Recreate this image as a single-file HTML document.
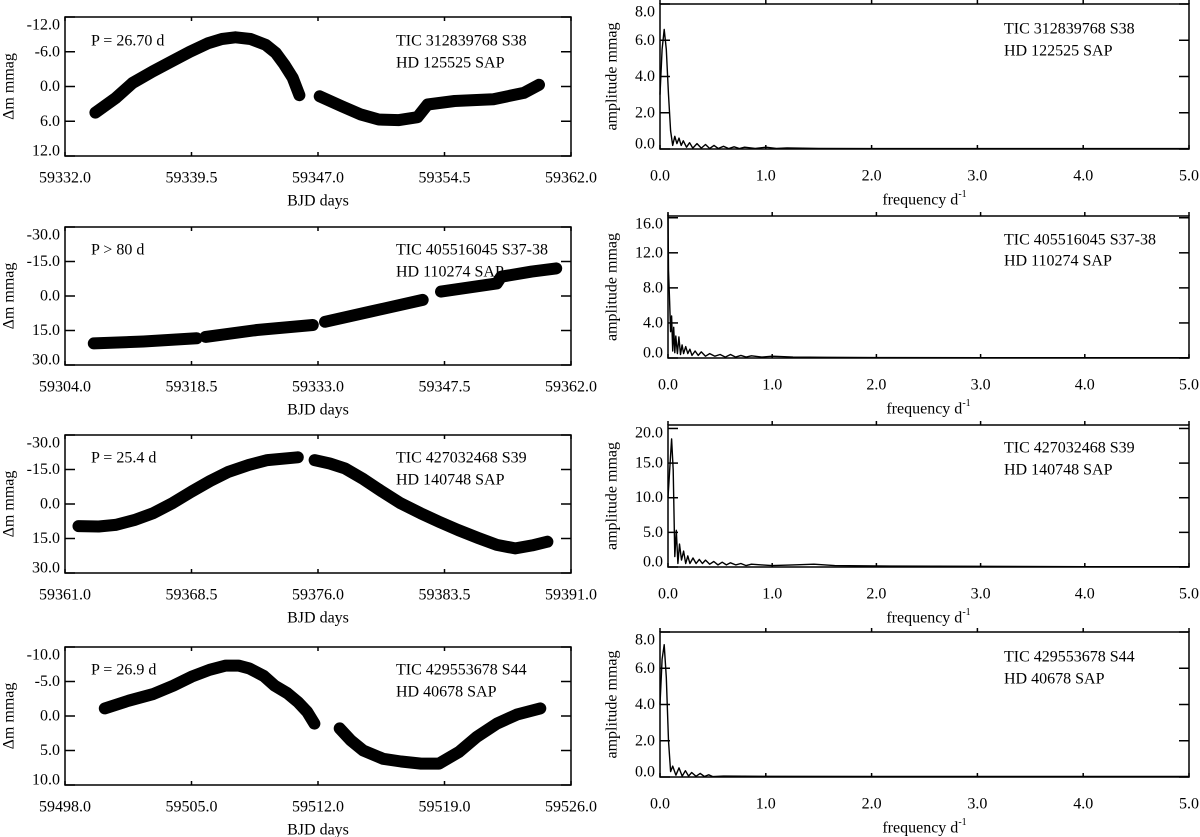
<!DOCTYPE html>
<html><head><meta charset="utf-8">
<style>
html,body{margin:0;padding:0;background:#fff;}
svg{display:block;font-family:"Liberation Serif",serif;}
</style></head>
<body>
<svg id="fig" width="1200" height="837" viewBox="0 0 1200 837"></svg>
<script>
// ---------- Light curve data (BJD, delta mag mmag) ----------
const lc1Seg1T=[59333.8,59335.0,59336.0,59337.2,59338.3,59339.4,59340.5,59341.3,59342.1,59343.0,59343.9,59344.5,59345.0,59345.5,59345.9];
const lc1Seg1M=[4.5,2.0,-0.6,-2.6,-4.3,-6.0,-7.5,-8.2,-8.5,-8.2,-7.2,-5.8,-3.8,-1.5,1.5];
const lc1Seg2T=[59347.1,59348.4,59349.5,59350.6,59351.8,59352.9,59353.5,59355.1,59357.4,59359.2,59360.1];
const lc1Seg2M=[1.7,3.4,4.8,5.7,5.8,5.3,3.1,2.5,2.2,1.1,-0.3];

const lc2Seg1T=[59307.3,59313.0,59319.1];
const lc2Seg1M=[20.6,19.8,18.4];
const lc2Seg2T=[59320.1,59326.0,59332.4];
const lc2Seg2M=[17.8,14.8,12.6];
const lc2Seg3T=[59333.8,59339.0,59345.0];
const lc2Seg3M=[11.2,6.8,1.7];
const lc2Seg4T=[59347.1,59353.5,59354.0,59357.5,59360.3];
const lc2Seg4M=[-1.9,-5.5,-8.4,-10.6,-12.0];

const lc3Seg1T=[59361.8,59363.0,59364.0,59365.1,59366.2,59367.4,59368.5,59369.6,59370.7,59371.9,59373.0,59374.8];
const lc3Seg1M=[9.6,9.8,9.1,7.0,4.1,-0.5,-5.4,-10.0,-14.0,-17.0,-19.1,-20.3];
const lc3Seg2T=[59375.8,59376.7,59377.6,59378.7,59379.8,59380.9,59382.1,59383.2,59384.3,59385.5,59386.6,59387.7,59388.7,59389.6];
const lc3Seg2M=[-19.1,-17.6,-15.5,-10.8,-5.4,-0.3,4.1,7.8,11.3,14.8,17.8,19.3,18.0,16.4];

const lc4Seg1T=[59500.2,59501.5,59502.9,59504.0,59505.0,59506.0,59506.9,59507.6,59508.2,59509.0,59509.6,59510.3,59510.9,59511.4,59511.8];
const lc4Seg1M=[-1.1,-2.2,-3.2,-4.4,-5.7,-6.7,-7.3,-7.3,-6.9,-5.8,-4.4,-3.3,-2.0,-0.6,1.1];
const lc4Seg2T=[59513.2,59513.8,59514.5,59515.6,59516.6,59517.7,59518.7,59519.8,59520.8,59521.9,59523.0,59524.3];
const lc4Seg2M=[1.8,3.5,5.0,6.2,6.6,6.9,6.9,5.2,3.0,1.1,-0.2,-1.1];

// ---------- Periodogram data (frequency d^-1, amplitude mmag) ----------
const ft1F=[0,0.02,0.04,0.06,0.08,0.1,0.12,0.14,0.16,0.18,0.2,0.22,0.25,0.28,0.31,0.35,0.39,0.43,0.47,0.51,0.55,0.6,0.65,0.7,0.75,0.8,0.9,1.0,1.1,1.2,1.5,2,3,4,5];
const ft1A=[3,5.5,6.6,5.5,3,1,0.2,0.7,0.3,0.6,0.2,0.45,0.1,0.35,0.05,0.3,0.05,0.25,0.03,0.2,0.03,0.15,0.02,0.12,0.02,0.1,0.03,0.1,0.03,0.06,0.03,0.02,0.02,0.02,0.02];
const ft2F=[0,0.005,0.015,0.025,0.035,0.045,0.055,0.065,0.075,0.09,0.105,0.12,0.135,0.15,0.17,0.19,0.21,0.23,0.26,0.29,0.32,0.36,0.4,0.45,0.5,0.55,0.6,0.65,0.7,0.75,0.8,0.9,1.0,1.2,1.5,2,3,4,5];
const ft2A=[16.5,10,6.5,3,4.8,0.8,3.5,0.6,2.5,0.5,2.4,0.4,1.5,0.5,1.3,0.5,1.0,0.3,0.8,0.3,0.7,0.2,0.5,0.2,0.4,0.1,0.4,0.1,0.3,0.1,0.25,0.1,0.2,0.1,0.08,0.05,0.03,0.03,0.03];
const ft3F=[0,0.02,0.035,0.05,0.065,0.08,0.095,0.11,0.13,0.15,0.17,0.19,0.21,0.24,0.27,0.3,0.33,0.36,0.4,0.44,0.48,0.52,0.56,0.6,0.65,0.7,0.75,0.8,0.9,1.0,1.2,1.4,1.6,2,3,4,5];
const ft3A=[10,15,18.5,14,1.5,5.3,0.5,3.3,1,2.3,0.5,1.6,0.5,1.3,0.5,1.1,0.5,1.0,0.4,0.8,0.3,0.7,0.3,0.6,0.3,0.5,0.2,0.4,0.3,0.2,0.3,0.4,0.2,0.15,0.1,0.05,0.05];
const ft4F=[0,0.02,0.04,0.06,0.08,0.1,0.12,0.15,0.18,0.21,0.24,0.27,0.3,0.34,0.38,0.42,0.46,0.5,0.6,1,2,3,4,5];
const ft4A=[4,6.5,7.3,5.5,2,0.3,0.6,0.1,0.5,0.05,0.35,0.05,0.25,0.04,0.2,0.03,0.12,0.02,0.05,0.04,0.03,0.03,0.03,0.03];

// ---------- Tick labels ----------
const lcXTicks1=[59332.0,59339.5,59347.0,59354.5,59362.0];
const lcYTicks1=[-12,-6,0,6,12];
const lcXTicks2=[59304.0,59318.5,59333.0,59347.5,59362.0];
const lcYTicks2=[-30,-15,0,15,30];
const lcXTicks3=[59361.0,59368.5,59376.0,59383.5,59391.0];
const lcYTicks3=[-30,-15,0,15,30];
const lcXTicks4=[59498.0,59505.0,59512.0,59519.0,59526.0];
const lcYTicks4=[-10,-5,0,5,10];
const ftXTicks=[0,1,2,3,4,5];
const ftYTicks1=[0,2,4,6,8];
const ftYTicks2=[0,4,8,12,16];
const ftYTicks3=[0,5,10,15,20];
const ftYTicks4=[0,2,4,6,8];

const NS="http://www.w3.org/2000/svg";
const svg=document.getElementById('fig');
function mk(tag,attrs,parent){const e=document.createElementNS(NS,tag);for(const k in attrs)e.setAttribute(k,attrs[k]);(parent||svg).appendChild(e);return e;}
function txt(s,x,y,anchor,parent,extra){const t=mk('text',Object.assign({x:x,y:y,'text-anchor':anchor,'font-size':16,fill:'#000','dominant-baseline':'central'},extra||{}),parent);t.textContent=s;return t;}

function drawPanel(p){
  const g=mk('g',{});
  
  
  const X=v=>p.x0+(v-p.xmin)/(p.xmax-p.xmin)*(p.x1-p.x0);
  const Y=v=>p.y0+(v-p.ymin)/(p.ymax-p.ymin)*(p.y1-p.y0);
  const fr=mk('rect',{x:p.x0,y:p.y0,width:p.x1-p.x0,height:p.y1-p.y0,fill:'none',stroke:'#000','stroke-width':1.5},g);
  
  
  p.xt.forEach(v=>{
    const x=X(v);
    mk('line',{x1:x,y1:p.y1,x2:x,y2:p.y1-4,stroke:'#000','stroke-width':1.5},g);
    if(p.topOut) mk('line',{x1:x,y1:p.y0,x2:x,y2:p.y0-4,stroke:'#000','stroke-width':1.5},g);
    else mk('line',{x1:x,y1:p.y0,x2:x,y2:p.y0+4,stroke:'#000','stroke-width':1.5},g);
    const t=txt(v.toFixed(1),x,p.y1+p.tickDy,'middle',g);
    
    
  });
  p.yt.forEach(v=>{
    const y=Y(v);
    mk('line',{x1:p.x0,y1:y,x2:p.x0+10,y2:y,stroke:'#000','stroke-width':1.5},g);
    mk('line',{x1:p.x1,y1:y,x2:p.x1-10,y2:y,stroke:'#000','stroke-width':1.5},g);
    let ly=y; if(ly<p.y0+6) ly=p.y0+8; if(ly>p.y1-6) ly=p.y1-5;
    const t=txt(v.toFixed(1),p.x0-5,ly,'end',g);
    
    
  });
  const xl=txt(p.xlabel,(p.x0+p.x1)/2,p.y1+p.labDy,'middle',g);
  
  
  if(p.sup){const s=mk('tspan',{'font-size':10,dy:-6},xl);s.textContent='-1';}
  const yl=txt(p.ylabel,0,0,'middle',g,{transform:`translate(${p.ylx},${(p.y0+p.y1)/2}) rotate(-90)`});
  
  
  p.series.forEach(s=>{
    const pts=s.t.map((v,i)=>X(v).toFixed(1)+','+Y(s.m[i]).toFixed(1)).join(' ');
    const pl=mk('polyline',{points:pts,fill:'none',stroke:'#000','stroke-width':p.sw,'stroke-linejoin':'round','stroke-linecap':p.cap},g);
    
    
  });
  p.notes.forEach(n=>{
    const t=txt(n.s,n.x,n.y,'start',g);
    
    
  });
}

const L={x0:65,x1:571,ylx:9,xlabel:'BJD days',ylabel:'Δm mmag',tickDy:22,labDy:45,sw:12,cap:'round',topOut:false};
const R={x0:660,x1:1189,ylx:612,xlabel:'frequency d',sup:true,ylabel:'amplitude mmag',tickDy:27,labDy:51,sw:1.4,cap:'butt',topOut:true};

drawPanel(Object.assign({},L,{name:'lightcurve-panel-1',y0:17,y1:156,xmin:59332,xmax:59362,ymin:-12,ymax:12,xt:lcXTicks1,yt:lcYTicks1,
 series:[{name:'lc1-segment-1',t:lc1Seg1T,m:lc1Seg1M},{name:'lc1-segment-2',t:lc1Seg2T,m:lc1Seg2M}],
 notes:[{s:'P = 26.70 d',x:91,y:41,name:'period-label'},{s:'TIC 312839768 S38',x:396,y:41,name:'star-id-label'},{s:'HD 125525 SAP',x:396,y:63,name:'hd-label'}]}));
drawPanel(Object.assign({},L,{name:'lightcurve-panel-2',y0:227,y1:365,xmin:59304,xmax:59362,ymin:-30,ymax:30,xt:lcXTicks2,yt:lcYTicks2,
 series:[{name:'lc2-segment-1',t:lc2Seg1T,m:lc2Seg1M},{name:'lc2-segment-2',t:lc2Seg2T,m:lc2Seg2M},{name:'lc2-segment-3',t:lc2Seg3T,m:lc2Seg3M},{name:'lc2-segment-4',t:lc2Seg4T,m:lc2Seg4M}],
 notes:[{s:'P > 80 d',x:91,y:250,name:'period-label'},{s:'TIC 405516045 S37-38',x:396,y:250,name:'star-id-label'},{s:'HD 110274 SAP',x:396,y:272,name:'hd-label'}]}));
drawPanel(Object.assign({},L,{name:'lightcurve-panel-3',y0:435,y1:573,xmin:59361,xmax:59391,ymin:-30,ymax:30,xt:lcXTicks3,yt:lcYTicks3,
 series:[{name:'lc3-segment-1',t:lc3Seg1T,m:lc3Seg1M},{name:'lc3-segment-2',t:lc3Seg2T,m:lc3Seg2M}],
 notes:[{s:'P = 25.4 d',x:91,y:458,name:'period-label'},{s:'TIC 427032468 S39',x:396,y:458,name:'star-id-label'},{s:'HD 140748 SAP',x:396,y:480,name:'hd-label'}]}));
drawPanel(Object.assign({},L,{name:'lightcurve-panel-4',y0:647,y1:785,xmin:59498,xmax:59526,ymin:-10,ymax:10,xt:lcXTicks4,yt:lcYTicks4,
 series:[{name:'lc4-segment-1',t:lc4Seg1T,m:lc4Seg1M},{name:'lc4-segment-2',t:lc4Seg2T,m:lc4Seg2M}],
 notes:[{s:'P = 26.9 d',x:91,y:670,name:'period-label'},{s:'TIC 429553678 S44',x:396,y:670,name:'star-id-label'},{s:'HD 40678 SAP',x:396,y:692,name:'hd-label'}]}));

drawPanel(Object.assign({},R,{name:'periodogram-panel-1',y0:4,y1:149,xmin:0,xmax:5,ymin:8,ymax:0,xt:ftXTicks,yt:ftYTicks1,
 series:[{name:'amplitude-spectrum-1',t:ft1F,m:ft1A}],
 notes:[{s:'TIC 312839768 S38',x:1004,y:29,name:'star-id-label'},{s:'HD 122525 SAP',x:1004,y:51,name:'hd-label'}]}));
drawPanel(Object.assign({},R,{name:'periodogram-panel-2',x0:668,y0:216,y1:358,xmin:0,xmax:5,ymin:16.2,ymax:0,xt:ftXTicks,yt:ftYTicks2,
 series:[{name:'amplitude-spectrum-2',t:ft2F,m:ft2A}],
 notes:[{s:'TIC 405516045 S37-38',x:1004,y:240,name:'star-id-label'},{s:'HD 110274 SAP',x:1004,y:261,name:'hd-label'}]}));
drawPanel(Object.assign({},R,{name:'periodogram-panel-3',x0:668,y0:425,y1:567,xmin:0,xmax:5,ymin:20.5,ymax:0,xt:ftXTicks,yt:ftYTicks3,
 series:[{name:'amplitude-spectrum-3',t:ft3F,m:ft3A}],
 notes:[{s:'TIC 427032468 S39',x:1004,y:448,name:'star-id-label'},{s:'HD 140748 SAP',x:1004,y:470,name:'hd-label'}]}));
drawPanel(Object.assign({},R,{name:'periodogram-panel-4',y0:632,y1:777,xmin:0,xmax:5,ymin:8,ymax:0,xt:ftXTicks,yt:ftYTicks4,
 series:[{name:'amplitude-spectrum-4',t:ft4F,m:ft4A}],
 notes:[{s:'TIC 429553678 S44',x:1004,y:657,name:'star-id-label'},{s:'HD 40678 SAP',x:1004,y:679,name:'hd-label'}]}));
</script>
</body></html>
